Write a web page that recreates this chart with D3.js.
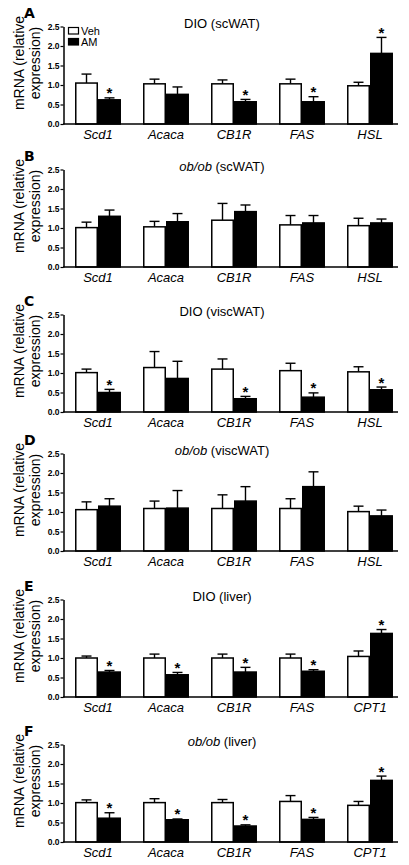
<!DOCTYPE html>
<html><head><meta charset="utf-8">
<script src="https://cdn.jsdelivr.net/npm/d3@7"></script>
<style>
html,body{margin:0;padding:0;background:#fff;}
svg{display:block;font-family:"Liberation Sans",Arial,Helvetica,sans-serif;}
</style></head>
<body>
<svg id="chart" width="409" height="865"></svg>
<script>
// ---- data ----
const catsWAT = ["Scd1", "Acaca", "CB1R", "FAS", "HSL"];
const catsLiver = ["Scd1", "Acaca", "CB1R", "FAS", "CPT1"];
const groups = ["Veh", "AM"];
const yTicks = [0, 0.5, 1.0, 1.5, 2.0, 2.5];
const letters = ["A", "B", "C", "D", "E", "F"];
const titleItalic = ["", "ob/ob", "", "ob/ob", "", "ob/ob"];
const titlePlain = ["DIO (scWAT)", " (scWAT)", "DIO (viscWAT)", " (viscWAT)", "DIO (liver)", " (liver)"];

const vehA = [1.05, 1.03, 1.03, 1.03, 0.98], vehSemA = [0.23, 0.12, 0.10, 0.12, 0.09];
const amA = [0.62, 0.76, 0.57, 0.57, 1.81], amSemA = [0.05, 0.19, 0.06, 0.13, 0.41];
const sigA = [1, 0, 1, 1, 1];

const vehB = [1.01, 1.03, 1.20, 1.08, 1.06], vehSemB = [0.14, 0.14, 0.43, 0.24, 0.19];
const amB = [1.30, 1.16, 1.42, 1.13, 1.13], amSemB = [0.16, 0.21, 0.17, 0.19, 0.10];
const sigB = [0, 0, 0, 0, 0];

const vehC = [1.01, 1.14, 1.10, 1.06, 1.03], vehSemC = [0.09, 0.41, 0.26, 0.19, 0.13];
const amC = [0.50, 0.86, 0.34, 0.38, 0.57], amSemC = [0.08, 0.44, 0.06, 0.11, 0.07];
const sigC = [1, 0, 1, 1, 1];

const vehD = [1.06, 1.09, 1.09, 1.09, 1.01], vehSemD = [0.20, 0.19, 0.35, 0.25, 0.14];
const amD = [1.15, 1.10, 1.28, 1.65, 0.90], amSemD = [0.19, 0.45, 0.37, 0.38, 0.15];
const sigD = [0, 0, 0, 0, 0];

const vehE = [1.00, 1.00, 1.00, 1.00, 1.04], vehSemE = [0.05, 0.10, 0.10, 0.10, 0.14];
const amE = [0.64, 0.57, 0.64, 0.66, 1.63], amSemE = [0.04, 0.06, 0.12, 0.04, 0.10];
const sigE = [1, 1, 1, 1, 1];

const vehF = [1.01, 1.01, 1.01, 1.04, 0.94], vehSemF = [0.07, 0.10, 0.08, 0.15, 0.10];
const amF = [0.61, 0.57, 0.41, 0.58, 1.58], amSemF = [0.14, 0.02, 0.03, 0.05, 0.11];
const sigF = [1, 1, 1, 1, 1];

const panelData = [
  {cats: catsWAT, veh: vehA, vehSem: vehSemA, am: amA, amSem: amSemA, sig: sigA},
  {cats: catsWAT, veh: vehB, vehSem: vehSemB, am: amB, amSem: amSemB, sig: sigB},
  {cats: catsWAT, veh: vehC, vehSem: vehSemC, am: amC, amSem: amSemC, sig: sigC},
  {cats: catsWAT, veh: vehD, vehSem: vehSemD, am: amD, amSem: amSemD, sig: sigD},
  {cats: catsLiver, veh: vehE, vehSem: vehSemE, am: amE, amSem: amSemE, sig: sigE},
  {cats: catsLiver, veh: vehF, vehSem: vehSemF, am: amF, amSem: amSemF, sig: sigF}
];

// ---- layout ----
const zeroY = [124, 267, 412, 551, 697, 842];
const plotH = 97.5;
const axisX = 63.5;
const axisRight = 398;

const svg = d3.select("#chart");

panelData.forEach((p, i) => {
  const z = zeroY[i];
  const g = svg.append("g");
  const y = d3.scaleLinear().domain([0, 2.5]).range([z, z - plotH]);
  const x = d3.scaleBand().domain(p.cats).range([64, 404]).paddingInner(0.324).paddingOuter(0.162);
  const xs = d3.scaleBand().domain(groups).range([0, x.bandwidth()]);

  // panel letter
  g.append("text").attr("x", 24).attr("y", z - 106)
    .attr("font-size", 14).attr("font-weight", 900).attr("font-family", "'DejaVu Sans','Liberation Sans',Arial,sans-serif")
    .text(letters[i]);

  // title
  const t = g.append("text").attr("x", 222).attr("y", z - 96).attr("text-anchor", "middle").attr("font-size", 13);
  if (titleItalic[i]) t.append("tspan").attr("font-style", "italic").text(titleItalic[i]);
  t.append("tspan").text(titlePlain[i]);

  // y label
  const cy = z - 61;
  g.append("text").attr("transform", `translate(19,${cy}) rotate(-90)`).attr("text-anchor", "middle")
    .attr("dominant-baseline", "central").attr("font-size", 14).text("mRNA (relative");
  g.append("text").attr("transform", `translate(34.5,${cy}) rotate(-90)`).attr("text-anchor", "middle")
    .attr("dominant-baseline", "central").attr("font-size", 14).text("expression)");

  // bars
  const rows = [];
  p.cats.forEach((c, k) => {
    rows.push({c, grp: "Veh", v: p.veh[k], e: p.vehSem[k], s: 0});
    rows.push({c, grp: "AM", v: p.am[k], e: p.amSem[k], s: p.sig[k]});
  });

  // error bars (behind bars)
  rows.forEach(r => {
    const cx = x(r.c) + xs(r.grp) + xs.bandwidth() / 2;
    g.append("line").attr("x1", cx).attr("x2", cx).attr("y1", y(r.v)).attr("y2", y(r.v + r.e))
      .attr("stroke", "#000").attr("stroke-width", 1.4);
    g.append("line").attr("x1", cx - 5).attr("x2", cx + 5).attr("y1", y(r.v + r.e)).attr("y2", y(r.v + r.e))
      .attr("stroke", "#000").attr("stroke-width", 1.4);
    if (r.s) {
      g.append("text").attr("x", cx).attr("y", y(r.v + r.e) + 0.5).attr("text-anchor", "middle")
        .attr("font-size", 15).attr("font-weight", "bold").text("*");
    }
  });
  g.selectAll("rect.bar").data(rows).enter().append("rect").attr("class", "bar")
    .attr("x", r => x(r.c) + xs(r.grp) + 0.75)
    .attr("width", xs.bandwidth() - 1.5)
    .attr("y", r => y(r.v))
    .attr("height", r => z - y(r.v))
    .attr("fill", r => r.grp === "Veh" ? "#fff" : "#000")
    .attr("stroke", "#000").attr("stroke-width", 1.5);

  // y axis
  const ya = g.append("g").attr("transform", `translate(${axisX},0)`)
    .call(d3.axisLeft(y).tickValues(yTicks).tickFormat(d3.format(".1f")).tickSize(3).tickSizeOuter(0).tickPadding(1));
  ya.select(".domain").attr("stroke-width", 1.5);
  ya.selectAll(".tick line").attr("stroke-width", 1.2);
  ya.selectAll("text").attr("font-size", 8.5).attr("font-weight", "bold").attr("font-family", "'Liberation Sans',Arial,sans-serif");

  // x axis
  const xa = g.append("g").attr("transform", `translate(0,${z})`)
    .call(d3.axisBottom(x).tickSize(0).tickPadding(6));
  xa.select(".domain").remove();
  xa.selectAll("text").attr("font-size", 13).attr("font-style", "italic").attr("font-family", "'Liberation Sans',Arial,sans-serif")
    .attr("dy", "0.71em");
  g.append("line").attr("x1", axisX - 0.5).attr("x2", axisRight).attr("y1", z).attr("y2", z)
    .attr("stroke", "#000").attr("stroke-width", 1.5);

  // legend (panel A only)
  if (i === 0) {
    const lg = g.append("g");
    groups.forEach((gr, j) => {
      lg.append("rect").attr("x", 68.5).attr("y", z - 96.5 + j * 11).attr("width", 10).attr("height", 6.5)
        .attr("fill", gr === "Veh" ? "#fff" : "#000").attr("stroke", "#000").attr("stroke-width", 1.2);
      lg.append("text").attr("x", 81).attr("y", z - 89.5 + j * 11).attr("font-size", 11).text(gr);
    });
  }
});
</script>
</body></html>
